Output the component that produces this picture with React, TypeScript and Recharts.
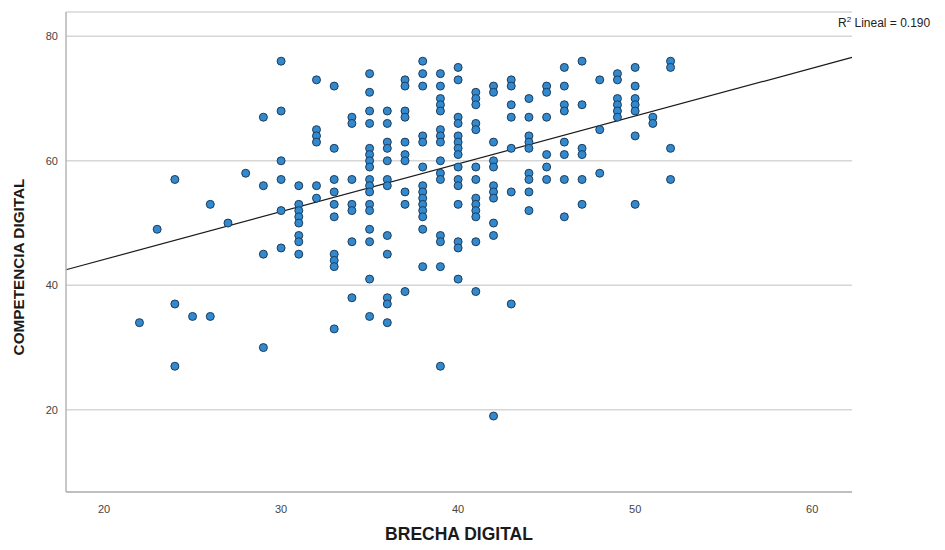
import {
  ScatterChart,
  Scatter,
  XAxis,
  YAxis,
  CartesianGrid,
  ReferenceLine,
} from "recharts";

// BRECHA DIGITAL (x) columns and the COMPETENCIA DIGITAL values seen at each
const brecha = [
  22, 23, 24, 25, 26, 27, 28, 29, 30, 31, 32, 33, 34, 35, 36, 37,
  38, 39, 40, 41, 42, 43, 44, 45, 46, 47, 48, 49, 50, 51, 52,
];
const competencia: number[][] = [
  [34],
  [49],
  [57, 37, 27],
  [35],
  [53, 35],
  [50],
  [58],
  [67, 56, 45, 30],
  [76, 68, 60, 57, 52, 46],
  [56, 53, 52, 51, 50, 48, 47, 45],
  [73, 65, 64, 63, 56, 54],
  [72, 62, 57, 55, 53, 51, 45, 44, 43, 33],
  [67, 66, 57, 53, 52, 47, 38],
  [74, 71, 68, 66, 62, 61, 60, 59, 57, 56, 55, 53, 52, 49, 47, 41, 35],
  [68, 66, 63, 62, 60, 57, 56, 48, 45, 38, 37, 34],
  [73, 72, 68, 67, 63, 61, 60, 55, 53, 39],
  [76, 74, 72, 64, 63, 59, 56, 55, 54, 53, 52, 51, 49, 43],
  [74, 72, 70, 69, 68, 65, 64, 63, 60, 58, 57, 48, 47, 43, 27],
  [75, 73, 67, 66, 64, 63, 62, 61, 59, 57, 56, 53, 47, 46, 41],
  [71, 70, 69, 66, 65, 59, 57, 54, 53, 52, 51, 47, 39],
  [72, 71, 63, 60, 59, 56, 55, 54, 50, 48, 19],
  [73, 72, 69, 67, 62, 55, 37],
  [70, 67, 64, 63, 62, 58, 57, 55, 52],
  [72, 71, 67, 61, 59, 57],
  [75, 72, 69, 68, 63, 61, 57, 51],
  [76, 69, 62, 61, 57, 53],
  [73, 65, 58],
  [74, 73, 70, 69, 68, 67],
  [75, 72, 70, 69, 68, 64, 53],
  [67, 66],
  [76, 75, 62, 57],
];

const xTicks = [20, 30, 40, 50, 60];
const yTicks = [20, 40, 60, 80];
const xDomain: [number, number] = [17.85, 62.25];
const yDomain: [number, number] = [6.8, 83.9];

// linear fit line at both plot edges
const fitLine = [
  { x: 17.85, y: 42.5 },
  { x: 62.25, y: 76.6 },
];
const r2Lineal = "0.190";

const points = brecha.flatMap((x, i) => competencia[i].map((y) => ({ x, y })));

const FONT = "'Liberation Sans', Arial, sans-serif";

function Dot(props: any) {
  return (
    <circle
      cx={props.cx}
      cy={props.cy}
      r={4}
      fill="#3389cd"
      stroke="#1c3c5c"
      strokeWidth={1}
    />
  );
}

export default function App() {
  return (
    <div style={{ position: "absolute", left: 0, top: 0, background: "#fff" }}>
      <ScatterChart
        width={945}
        height={550}
        margin={{ top: 12, right: 93, bottom: 28, left: 26 }}
        style={{ fontFamily: FONT }}
      >
        <CartesianGrid
          vertical={false}
          stroke="#d6d6d6"
          strokeWidth={1.5}
        />
        <XAxis
          type="number"
          dataKey="x"
          domain={xDomain}
          ticks={xTicks}
          allowDataOverflow
          height={30}
          tickLine={false}
          tickMargin={7}
          axisLine={{ stroke: "#b5b5b5", strokeWidth: 1.5 }}
          tick={{ fontSize: 11, fill: "#444", fontFamily: FONT }}
        />
        <YAxis
          type="number"
          dataKey="y"
          domain={yDomain}
          ticks={yTicks}
          allowDataOverflow
          width={40}
          tickLine={false}
          axisLine={{ stroke: "#b5b5b5", strokeWidth: 1.5 }}
          tick={{ fontSize: 11, fill: "#444", fontFamily: FONT }}
        />
        <ReferenceLine
          segment={fitLine}
          stroke="#1a1a1a"
          strokeWidth={1.2}
          ifOverflow="visible"
        />
        <Scatter data={points} shape={Dot} isAnimationActive={false} />
        <text
          x={459}
          y={540}
          textAnchor="middle"
          fontSize={17.5}
          fontWeight="bold"
          fill="#1a1a1a"
          fontFamily={FONT}
        >
          BRECHA DIGITAL
        </text>
        <text
          x={24}
          y={267}
          textAnchor="middle"
          fontSize={15.3}
          fontWeight="bold"
          fill="#1a1a1a"
          fontFamily={FONT}
          transform="rotate(-90 24 267)"
        >
          COMPETENCIA DIGITAL
        </text>
        <text x={838} y={27} fontSize={12} fill="#222" fontFamily={FONT}>
          R
          <tspan fontSize={8} dy={-5}>
            2
          </tspan>
          <tspan dy={5}>{` Lineal = ${r2Lineal}`}</tspan>
        </text>
      </ScatterChart>
    </div>
  );
}
